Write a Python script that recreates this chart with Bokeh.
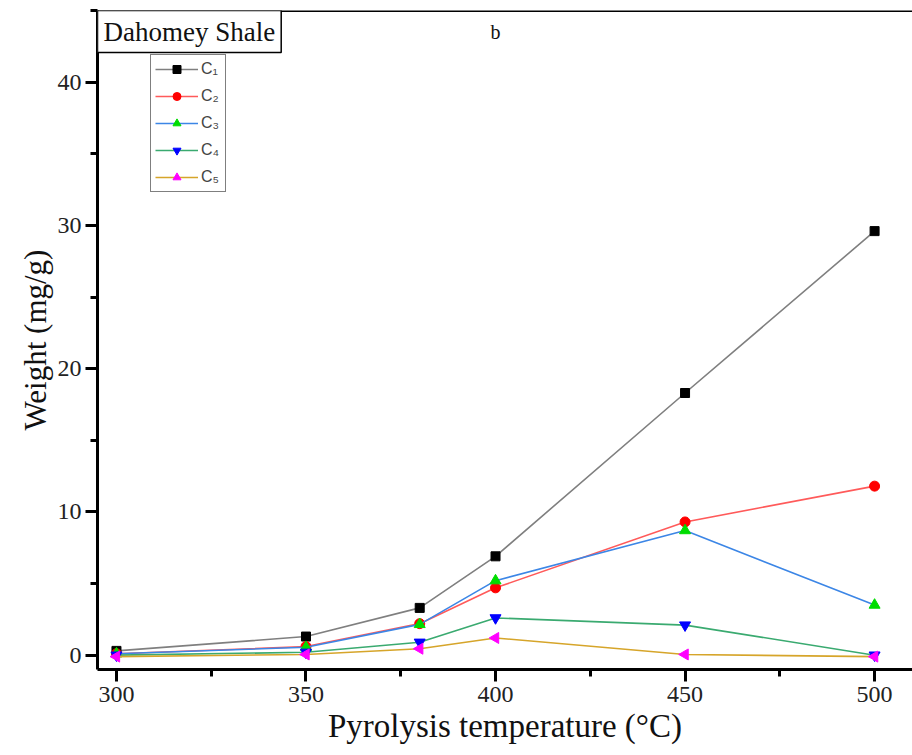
import numpy as np
from bokeh.plotting import figure
from bokeh.models import (Label, Span, SingleIntervalTicker, ColumnDataSource)
from bokeh.embed import file_html
from bokeh.resources import INLINE

# ---- data ----
temps = [300, 350, 380, 400, 450, 500]
c1 = [0.3, 1.3, 3.3, 6.9, 18.3, 29.6]
c2 = [0.1, 0.6, 2.2, 4.7, 9.3, 11.8]
c3 = [0.1, 0.55, 2.15, 5.2, 8.7, 3.5]
c4 = [0.0, 0.2, 0.9, 2.6, 2.1, 0.0]
c5 = [-0.1, 0.05, 0.45, 1.2, 0.05, -0.1]
labels = ["C\u2081", "C\u2082", "C\u2083", "C\u2084", "C\u2085"]

series = [c1, c2, c3, c4, c5]
line_colors = ["#7f7f7f", "#ff5a5a", "#3c86e6", "#3aaa70", "#d6a52a"]
marker_colors = ["#000000", "#ff0000", "#00dd00", "#0000ff", "#ff00ff"]
markers = ["square", "circle", "triangle", "inverted_triangle", "triangle"]
angles = [0, 0, 0, 0, np.pi / 2]
sizes = [9, 10, 11, 11, 11]

SERIF = "Liberation Serif"

p = figure(width=912, height=755, x_range=(295, 510), y_range=(-1, 45),
           output_backend="svg", toolbar_location=None,
           min_border_left=97, min_border_right=0, min_border_top=10,
           min_border_bottom=86)
p.grid.visible = False
p.outline_line_color = None
p.background_fill_color = "white"
p.border_fill_color = "white"

for i in range(5):
    src = ColumnDataSource(dict(x=temps, y=series[i],
                                ang=[angles[i]] * len(temps)))
    p.line("x", "y", source=src, line_color=line_colors[i], line_width=1.6,
           legend_label=labels[i])
    p.scatter("x", "y", source=src, marker=markers[i], size=sizes[i],
              angle="ang", fill_color=marker_colors[i],
              line_color=marker_colors[i], legend_label=labels[i])

# top border
p.add_layout(Span(location=45, dimension="width", line_color="black",
                  line_width=3))

p.xaxis.ticker = SingleIntervalTicker(interval=50, num_minor_ticks=2)
p.yaxis.ticker = SingleIntervalTicker(interval=10, num_minor_ticks=2)
for ax in (p.xaxis[0], p.yaxis[0]):
    ax.axis_line_width = 3
    ax.major_tick_line_width = 3
    ax.minor_tick_line_width = 3
    ax.major_tick_out = 12
    ax.major_tick_in = 0
    ax.minor_tick_out = 7
    ax.minor_tick_in = 0
    ax.major_label_text_font = SERIF
    ax.major_label_text_font_size = "24px"
    ax.major_label_text_color = "#222222"
    ax.axis_label_text_font = SERIF
    ax.axis_label_text_font_style = "normal"
    ax.axis_label_text_color = "#111111"

p.xaxis.axis_label = "Pyrolysis temperature (\u00b0C)"
p.xaxis.axis_label_text_font_size = "33px"
p.xaxis.major_label_standoff = 5
p.xaxis.axis_label_standoff = 3
p.yaxis.axis_label = "Weight (mg/g)"
p.yaxis.axis_label_text_font_size = "31px"
p.yaxis.major_label_standoff = 4
p.yaxis.axis_label_standoff = 2

lg = p.legend[0]
lg.location = (53, 477)
lg.border_line_color = "black"
lg.border_line_width = 1.5
lg.background_fill_color = "white"
lg.background_fill_alpha = 1
lg.label_text_font = "Liberation Sans"
lg.label_text_font_size = "16px"
lg.glyph_width = 43
lg.glyph_height = 20
lg.label_height = 20
lg.spacing = 7
lg.padding = 4
lg.margin = 0
lg.label_standoff = 3

title = Label(x=295, y=45, text="Dahomey Shale", text_align="left",
              text_baseline="top", text_font=SERIF, text_font_size="27px",
              text_color="#111111", border_line_color="black",
              border_line_width=1.5, background_fill_color="white",
              padding=6)
p.add_layout(title)

b = Label(x=400, y=43.5, text="b", text_align="center",
          text_baseline="middle", text_font=SERIF, text_font_size="20px",
          text_color="#111111")
p.add_layout(b)

open("out.html", "w").write(file_html(p, INLINE))
